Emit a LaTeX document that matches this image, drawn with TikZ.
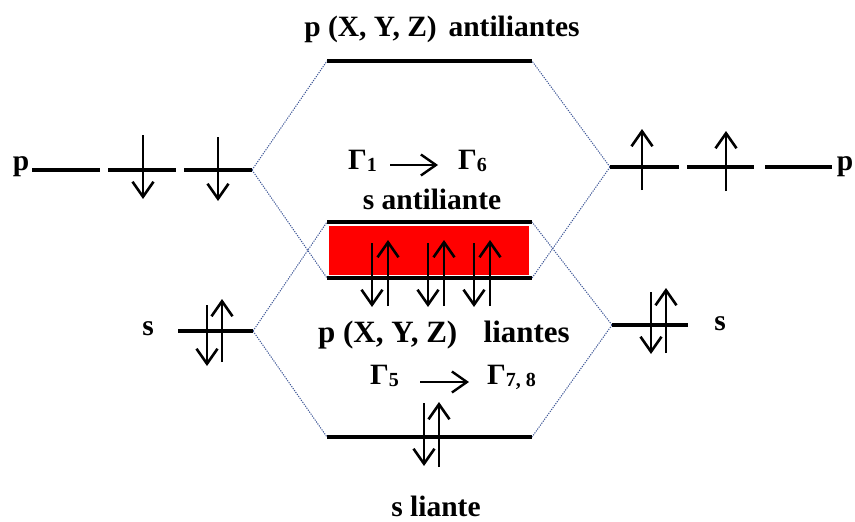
\documentclass[tikz,border=0pt]{standalone}
\usepackage{fontspec}
\setmainfont{Liberation Serif}
\usetikzlibrary{arrows.meta}
\definecolor{corrblue}{RGB}{60,85,150}
\begin{document}
\begin{tikzpicture}[x=1pt,y=-1pt,
  level/.style={line width=3.2pt},
  spin/.style={line width=2.6pt,-{Straight Barb[length=15pt,width=21pt,line width=2.6pt]}},
  trans/.style={line width=2.4pt,-{Straight Barb[length=15pt,width=21pt,line width=2.4pt]}},
  corr/.style={draw=corrblue,line width=1pt,dash pattern=on 1.2pt off 1.2pt},
  lbl/.style={font=\fontsize{29.5}{32}\selectfont\bfseries,inner sep=0pt}]
\useasboundingbox (0,0) rectangle (855,522);
% coordinates of level ends
\coordinate (topL) at (327,61);  \coordinate (topR) at (532,61);
\coordinate (saL) at (327,222);  \coordinate (saR) at (532,222);
\coordinate (pbL) at (327,278);  \coordinate (pbR) at (532,278);
\coordinate (sbL) at (327,437);  \coordinate (sbR) at (532,437);
\coordinate (pLe) at (252,170);  \coordinate (pRe) at (610,167);
\coordinate (sLe) at (253,331);  \coordinate (sRe) at (612,325);
% red box
\fill[red] (329,226) rectangle (529,275);
% correlation lines
\draw[corr] (pLe) -- (topL);
\draw[corr] (pLe) -- (pbL);
\draw[corr] (sLe) -- (saL);
\draw[corr] (sLe) -- (sbL);
\draw[corr] (pRe) -- (topR);
\draw[corr] (pRe) -- (pbR);
\draw[corr] (sRe) -- (saR);
\draw[corr] (sRe) -- (sbR);
% levels
\draw[level] (topL) -- (topR);
\draw[level] (saL) -- (saR);
\draw[level] (pbL) -- (pbR);
\draw[level] (sbL) -- (sbR);
\draw[level] (32,170) -- (100,170);
\draw[level] (108,170) -- (176,170);
\draw[level] (184,170) -- (pLe);
\draw[level] (pRe) -- (679,167);
\draw[level] (687,167) -- (754,167);
\draw[level] (765,167) -- (832,167);
\draw[level] (178,331) -- (sLe);
\draw[level] (sRe) -- (688,325);
% spins
\draw[spin] (143,135) -- (143,199);
\draw[spin] (218,137) -- (218,201);
\draw[spin] (642,190) -- (642,129);
\draw[spin] (726,191) -- (726,131);
\draw[spin] (207,305) -- (207,366);
\draw[spin] (222,362) -- (222,299);
\draw[spin] (651,292) -- (651,354);
\draw[spin] (666,353) -- (666,288);
\draw[spin] (372,243) -- (372,307);
\draw[spin] (388,306) -- (388,240);
\draw[spin] (428,243) -- (428,307);
\draw[spin] (444,306) -- (444,240);
\draw[spin] (474,243) -- (474,307);
\draw[spin] (490,306) -- (490,240);
\draw[spin] (424,403) -- (424,466);
\draw[spin] (439,467) -- (439,402);
% labels
\node[lbl,anchor=base] (ttop) at (442,36) {p (X, Y, Z)\hspace{0.15em} antiliantes};
\node[lbl,anchor=base] (pl) at (21,170) {p};
\node[lbl,anchor=base] (pr) at (845,170) {p};
\node[lbl,anchor=base] (sl) at (148,335) {s};
\node[lbl,anchor=base] (sr) at (720,330) {s};
\node[lbl,anchor=base west] (g1) at (348,169) {Γ\raisebox{-2pt}{\fontsize{20}{22}\selectfont 1}};
\node[lbl,anchor=base west] (g6) at (458,169) {Γ\raisebox{-2pt}{\fontsize{20}{22}\selectfont 6}};
\coordinate (a1s) at (390,165); \coordinate (a1e) at (438,165);
\draw[trans] (a1s) -- (a1e);
\node[lbl,anchor=base] (sa) at (432,209) {s antiliante};
\node[lbl,anchor=base east,font=\fontsize{31}{34}\selectfont\bfseries] (pb) at (570,342) {p (X, Y, Z)\hspace{0.6em} liantes};
\node[lbl,anchor=base west] (g5) at (370,384) {Γ\raisebox{-2pt}{\fontsize{20}{22}\selectfont 5}};
\node[lbl,anchor=base west] (g78) at (487,384) {Γ\raisebox{-2pt}{\fontsize{20}{22}\selectfont 7, 8}};
\coordinate (a2s) at (420,382); \coordinate (a2e) at (469,382);
\draw[trans] (a2s) -- (a2e);
\node[lbl,anchor=base] (sb) at (436,516) {s liante};
\end{tikzpicture}
\end{document}
